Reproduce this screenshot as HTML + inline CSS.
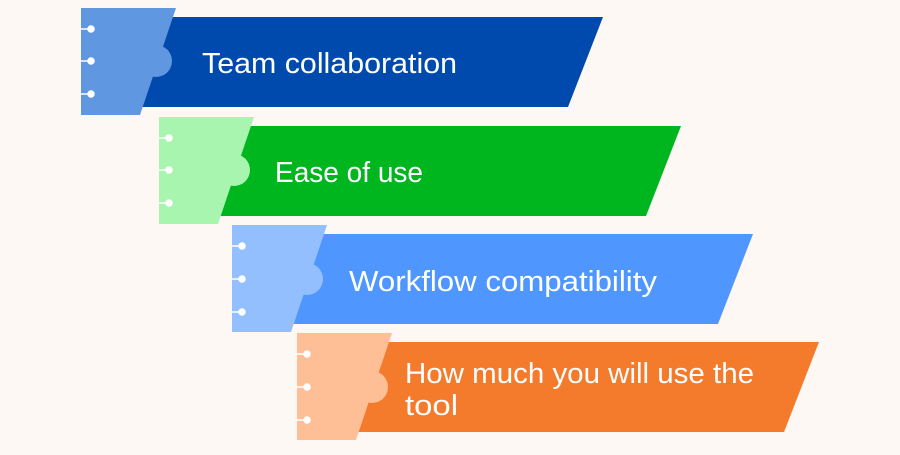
<!DOCTYPE html>
<html><head><meta charset="utf-8"><style>
html,body{margin:0;padding:0;background:#fdf8f4;}
svg text{font-family:"Liberation Sans",sans-serif;font-size:29px;fill:#fff;}
</style></head><body>
<svg width="900" height="450" viewBox="0 0 900 450" xmlns="http://www.w3.org/2000/svg">
<rect width="900" height="450" fill="#fdf8f4"/>
<!-- Row 1 -->
<polygon points="140,17 603,17 568,107 140,107" fill="#004aad"/>
<polygon points="81,8 176,8 140,115 81,115" fill="#5f97e0"/>
<circle cx="156" cy="61" r="16" fill="#5f97e0"/>
<g stroke="#fff" stroke-width="1.5" fill="#fff"><line x1="81" y1="29" x2="91" y2="29"/><line x1="81" y1="61" x2="91" y2="61"/><line x1="81" y1="94" x2="91" y2="94"/><circle cx="91" cy="29" r="3"/><circle cx="91" cy="61" r="3"/><circle cx="91" cy="94" r="3"/></g>
<text x="202" y="73" textLength="255" lengthAdjust="spacingAndGlyphs">Team collaboration</text>
<!-- Row 2 -->
<polygon points="218,126 681,126 646,216 218,216" fill="#00b61e"/>
<polygon points="159,117 254,117 218,224 159,224" fill="#a8f5b0"/>
<circle cx="234" cy="170" r="16" fill="#a8f5b0"/>
<g stroke="#fff" stroke-width="1.5" fill="#fff"><line x1="159" y1="138" x2="169" y2="138"/><line x1="159" y1="170" x2="169" y2="170"/><line x1="159" y1="203" x2="169" y2="203"/><circle cx="169" cy="138" r="3"/><circle cx="169" cy="170" r="3"/><circle cx="169" cy="203" r="3"/></g>
<text x="275" y="182" textLength="148" lengthAdjust="spacingAndGlyphs">Ease of use</text>
<!-- Row 3 -->
<polygon points="291,234 753,234 718,324 291,324" fill="#5096ff"/>
<polygon points="232,225 327,225 291,332 232,332" fill="#94bfff"/>
<circle cx="307" cy="279" r="16" fill="#94bfff"/>
<g stroke="#fff" stroke-width="1.5" fill="#fff"><line x1="232" y1="246" x2="242" y2="246"/><line x1="232" y1="279" x2="242" y2="279"/><line x1="232" y1="312" x2="242" y2="312"/><circle cx="242" cy="246" r="3"/><circle cx="242" cy="279" r="3"/><circle cx="242" cy="312" r="3"/></g>
<text x="349" y="291" textLength="308" lengthAdjust="spacingAndGlyphs">Workflow compatibility</text>
<!-- Row 4 -->
<polygon points="356,342 819,342 784,432 356,432" fill="#f47a2c"/>
<polygon points="297,333 392,333 356,440 297,440" fill="#ffbf96"/>
<circle cx="372" cy="387" r="16" fill="#ffbf96"/>
<g stroke="#fff" stroke-width="1.5" fill="#fff"><line x1="297" y1="354" x2="307" y2="354"/><line x1="297" y1="387" x2="307" y2="387"/><line x1="297" y1="420" x2="307" y2="420"/><circle cx="307" cy="354" r="3"/><circle cx="307" cy="387" r="3"/><circle cx="307" cy="420" r="3"/></g>
<text x="405" y="383" textLength="349" lengthAdjust="spacingAndGlyphs">How much you will use the</text>
<text x="405" y="415" textLength="53" lengthAdjust="spacingAndGlyphs">tool</text>
</svg>
</body></html>
